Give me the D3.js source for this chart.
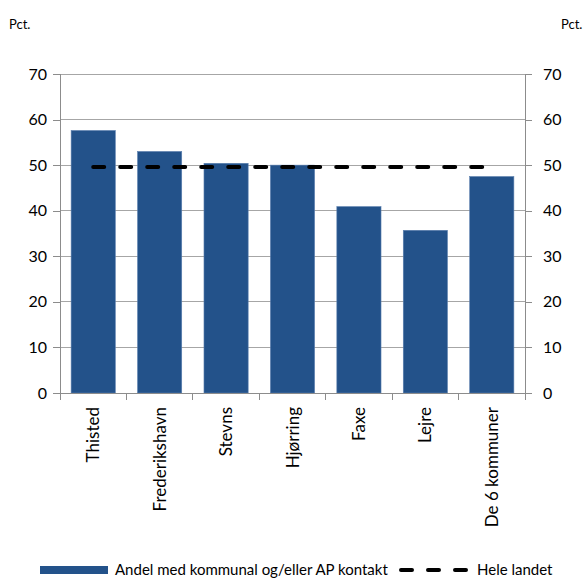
<!DOCTYPE html>
<html>
<head>
<meta charset="utf-8">
<script src="https://cdn.jsdelivr.net/npm/d3@7"></script>
<style>
  html, body { margin: 0; padding: 0; background: #fff; }
  svg { display: block; }
  text { font-family: Lato, "Open Sans", sans-serif; fill: #000; }
</style>
</head>
<body>
<svg id="chart" width="585" height="578"></svg>
<script>
// Andel med kommunal og/eller AP kontakt, pct.
const categories = ["Thisted", "Frederikshavn", "Stevns", "Hjørring", "Faxe", "Lejre", "De 6 kommuner"];
const andelValues = [57.6, 53.0, 50.4, 50.0, 40.9, 35.7, 47.5];
const heleLandet = 49.6;
const yTicks = [0, 10, 20, 30, 40, 50, 60, 70];
const seriesNames = ["Andel med kommunal og/eller AP kontakt", "Hele landet"];
const unitLabel = "Pct.";

const svg = d3.select("#chart");
const plot = { left: 60, right: 525, top: 74, bottom: 393 };
const barColor = "#23528A";
const gridColor = "#A6A6A6";

const x = d3.scaleBand().domain(categories).range([plot.left, plot.right]).paddingInner(0.335).paddingOuter(0.1675);
const xTicks = d3.scaleBand().domain(categories).range([plot.left, plot.right]);
const y = d3.scaleLinear().domain([0, 70]).range([plot.bottom, plot.top]);

// horizontal gridlines
svg.append("g").selectAll("line").data(yTicks.filter(t => t > 0)).join("line")
  .attr("x1", plot.left).attr("x2", plot.right)
  .attr("y1", d => y(d)).attr("y2", d => y(d))
  .attr("stroke", gridColor).attr("stroke-width", 1).attr("shape-rendering", "crispEdges");

// bars
svg.append("g").selectAll("rect").data(categories).join("rect")
  .attr("x", d => x(d)).attr("width", x.bandwidth())
  .attr("y", (d, i) => y(andelValues[i]))
  .attr("height", (d, i) => y(0) - y(andelValues[i]))
  .attr("fill", barColor)
  .attr("stroke", "#5B7FAE").attr("stroke-width", 0.6);

// national average, dashed line across the category centres
const first = categories[0], last = categories[categories.length - 1];
svg.append("line")
  .attr("x1", xTicks(first) + xTicks.bandwidth() / 2)
  .attr("x2", xTicks(last) + xTicks.bandwidth() / 2)
  .attr("y1", y(heleLandet)).attr("y2", y(heleLandet))
  .attr("stroke", "#000").attr("stroke-width", 4)
  .attr("stroke-linecap", "round").attr("stroke-dasharray", "11,16");

// left axis
const leftAxis = d3.axisLeft(y).tickValues(yTicks).tickSize(7).tickPadding(6).tickFormat(d3.format("d"));
const gl = svg.append("g").attr("transform", `translate(${plot.left},0)`).call(leftAxis);
// right axis
const rightAxis = d3.axisRight(y).tickValues(yTicks).tickSize(7).tickPadding(11).tickFormat(d3.format("d"));
const gr = svg.append("g").attr("transform", `translate(${plot.right},0)`).call(rightAxis);
// bottom axis
const bottomAxis = d3.axisBottom(xTicks).tickSize(0).tickFormat("");
const gb = svg.append("g").attr("transform", `translate(0,${plot.bottom})`).call(bottomAxis);
// category boundary ticks
svg.append("g").selectAll("line").data(categories.concat(["__end"])).join("line")
  .attr("x1", (d, i) => plot.left + i * xTicks.step())
  .attr("x2", (d, i) => plot.left + i * xTicks.step())
  .attr("y1", plot.bottom).attr("y2", plot.bottom + 7)
  .attr("stroke", "#8C8C8C").attr("stroke-width", 1).attr("shape-rendering", "crispEdges");

[gl, gr, gb].forEach(g => {
  g.select(".domain").attr("stroke", "#8C8C8C").attr("shape-rendering", "crispEdges");
  g.selectAll(".tick line").attr("stroke", "#8C8C8C").attr("shape-rendering", "crispEdges");
  g.selectAll(".tick text").attr("font-size", 16).attr("font-family", "Lato, sans-serif").attr("fill", "#000");
});
gl.select(".domain").attr("d", `M0,${plot.top}V${plot.bottom}`);
gr.select(".domain").attr("d", `M0,${plot.top}V${plot.bottom}`);

// rotated category labels
svg.append("g").selectAll("text").data(categories).join("text")
  .attr("transform", d => `translate(${xTicks(d) + xTicks.bandwidth() / 2 + 6},${plot.bottom + 14}) rotate(-90)`)
  .attr("text-anchor", "end")
  .attr("font-size", 17)
  .text(d => d);

// unit labels
svg.append("text").attr("x", 9).attr("y", 29).attr("font-size", 13).text(unitLabel);
svg.append("text").attr("x", 561).attr("y", 29).attr("font-size", 13).text(unitLabel);

// legend
const legY = 570;
svg.append("rect").attr("x", 40).attr("y", legY - 4).attr("width", 68).attr("height", 8).attr("fill", barColor);
svg.append("text").attr("x", 115).attr("y", legY).attr("dy", "0.35em").attr("font-size", 15).text(seriesNames[0]);
svg.append("line").attr("x1", 401).attr("x2", 468).attr("y1", legY).attr("y2", legY)
  .attr("stroke", "#000").attr("stroke-width", 4).attr("stroke-linecap", "round").attr("stroke-dasharray", "11,16");
svg.append("text").attr("x", 477).attr("y", legY).attr("dy", "0.35em").attr("font-size", 15).text(seriesNames[1]);
</script>
</body>
</html>
